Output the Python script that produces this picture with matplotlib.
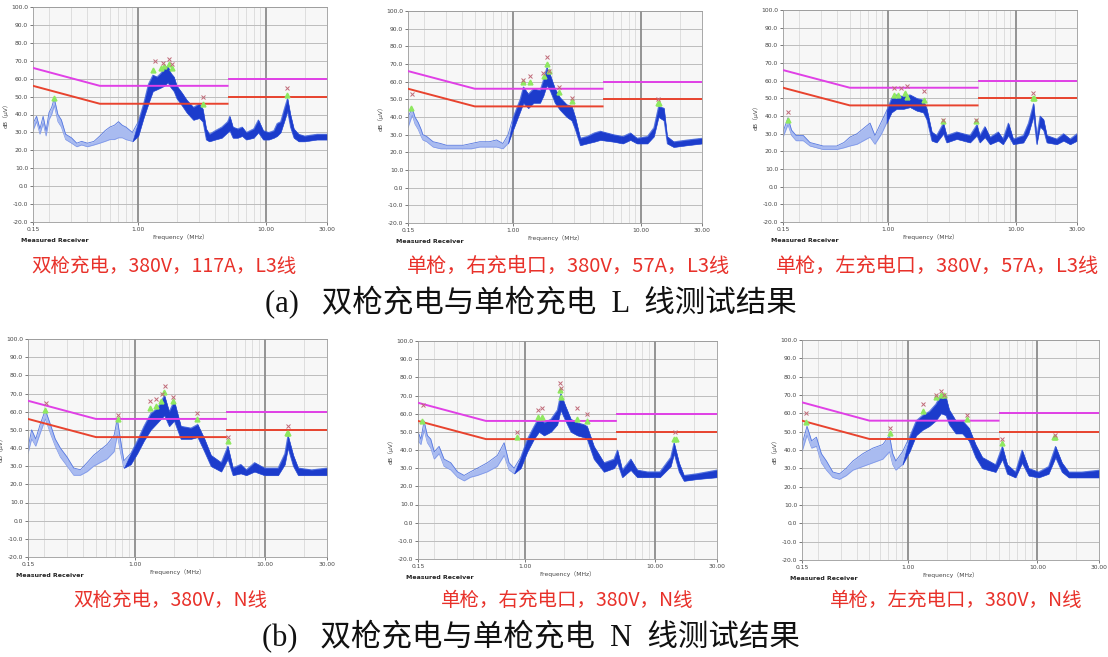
import numpy as np
import matplotlib
matplotlib.use("Agg")
import matplotlib.pyplot as plt
from matplotlib.ticker import FixedLocator, NullFormatter

plt.rcParams['font.family'] = ['DejaVu Sans', 'Noto Sans CJK SC']

# limit lines (QP magenta, AV red)
qp_f1 = [0.15, 0.5, 5.0]
qp_v1 = [66, 56, 56]
qp_f2 = [5.0, 30.0]
qp_v2 = [60, 60]
av_f1 = [0.15, 0.5, 5.0]
av_v1 = [56, 46, 46]
av_f2 = [5.0, 30.0]
av_v2 = [50, 50]

y_ticks = [100, 90, 80, 70, 60, 50, 40, 30, 20, 10, 0, -10, -20]
x_ticks = [0.15, 1.0, 10.0, 30.0]
x_labels = ["0.15", "1.00", "10.00", "30.00"]

captions = ["双枪充电，380V，117A，L3线", "单枪，右充电口，380V，57A，L3线", "单枪，左充电口，380V，57A，L3线",
            "双枪充电，380V，N线", "单枪，右充电口，380V，N线", "单枪，左充电口，380V，N线"]
title_a = "(a)   双枪充电与单枪充电  L  线测试结果"
title_b = "(b)   双枪充电与单枪充电  N  线测试结果"

# panel 1: dual gun, L3
p1_f = [0.15, 0.16, 0.17, 0.18, 0.19, 0.20, 0.21, 0.22, 0.235, 0.25, 0.27, 0.30, 0.33, 0.36, 0.40, 0.45, 0.50,
        0.55, 0.60, 0.65, 0.70, 0.75, 0.80, 0.90, 1.0, 1.1, 1.2, 1.3, 1.4, 1.5, 1.6, 1.7, 1.8, 1.9, 2.0, 2.2,
        2.4, 2.7, 3.0, 3.2, 3.4, 3.6, 4.0, 4.5, 5.0, 5.2, 5.5, 6.0, 6.5, 7.0, 8.0, 8.7, 9.5, 10.5, 11.5, 12.2,
        13.0, 14.0, 14.7, 15.5, 16.5, 18, 20, 25, 30]
p1_hi = [35, 39, 32, 39, 31, 41, 44, 49, 40, 37, 29, 27, 24, 25, 24, 25, 28, 31, 33, 34, 36, 34, 33, 30, 36, 46,
         57, 62, 61, 63, 66, 67, 63, 61, 56, 52, 48, 44, 46, 43, 32, 29, 31, 33, 36, 39, 33, 32, 33, 30, 32, 37,
         31, 30, 31, 35, 36, 44, 49, 40, 32, 29, 28, 29, 29]
p1_lo = [31, 36, 29, 35, 28, 37, 40, 45, 36, 33, 26, 24, 22, 23, 22, 23, 24, 25, 26, 26, 27, 27, 26, 25, 28, 38,
         46, 53, 54, 55, 56, 58, 55, 53, 49, 45, 41, 37, 38, 36, 26, 25, 26, 27, 30, 31, 27, 27, 28, 26, 27, 30,
         26, 26, 27, 28, 30, 37, 42, 33, 27, 25, 25, 26, 26]
p1_gf = [0.22, 1.3, 1.5, 1.6, 1.75, 1.85, 3.2, 14.7]
p1_gv = [49, 65, 66, 67, 68, 66, 46, 51]
p1_xf = [1.35, 1.55, 1.75, 1.85, 3.2, 14.7]
p1_xv = [70, 69, 71, 68, 50, 55]

# panel 2: single gun, right port, L3
p2_f = [0.15, 0.162, 0.17, 0.18, 0.19, 0.196, 0.21, 0.236, 0.27, 0.30, 0.35, 0.405, 0.47, 0.547, 0.65, 0.74,
        0.83, 0.91, 1.0, 1.13, 1.2, 1.31, 1.44, 1.62, 1.72, 1.83, 1.94, 2.12, 2.32, 2.62, 2.87, 3.05, 3.34,
        3.77, 4.3, 4.79, 6.1, 7.2, 8.25, 9.3, 11.2, 12.6, 13.7, 15.1, 16.0, 18.0, 22.9, 30]
p2_hi = [40, 45, 40, 37, 33, 30, 29, 26, 25, 24, 24, 24, 25, 26, 26, 27, 25, 30, 40, 50, 57, 53, 56, 55, 61, 68,
         64, 56, 51, 47, 46, 40, 28, 29, 31, 32, 30, 29, 31, 28, 29, 34, 46, 45, 29, 26, 27, 28]
p2_lo = [34, 41, 36, 33, 29, 27, 26, 23, 22, 22, 22, 22, 22, 23, 23, 23, 22, 25, 33, 43, 48, 45, 48, 48, 52, 58,
         55, 48, 44, 40, 38, 33, 24, 25, 26, 27, 26, 25, 27, 25, 25, 29, 40, 38, 25, 23, 24, 25]
p2_gf = [0.158, 1.2, 1.35, 1.75, 1.85, 1.9, 2.3, 2.9, 13.5, 13.8]
p2_gv = [45, 60, 60, 63, 70, 66, 54, 49, 48, 48]
p2_xf = [0.16, 1.2, 1.35, 1.72, 1.84, 1.9, 2.3, 2.9, 13.6]
p2_xv = [53, 61, 63, 65, 74, 66, 57, 51, 50]

# panel 3: single gun, left port, L3
p3_f = [0.15, 0.164, 0.175, 0.19, 0.216, 0.244, 0.31, 0.394, 0.45, 0.5, 0.57, 0.64, 0.72, 0.786, 0.887, 0.97,
        1.06, 1.16, 1.31, 1.48, 1.67, 1.88, 2.0, 2.19, 2.39, 2.7, 2.86, 3.43, 4.36, 4.93, 5.2, 5.7, 6.25, 7.25,
        7.9, 8.7, 9.5, 11.4, 12.5, 13.7, 14.5, 15.4, 16.4, 17.4, 20.8, 23.5, 26.5, 30]
p3_hi = [31, 39, 32, 29, 29, 25, 23, 23, 25, 28, 30, 33, 36, 29, 37, 43, 50, 52, 51, 52, 50, 49, 44, 31, 29, 36,
         29, 31, 29, 35, 29, 34, 28, 31, 27, 36, 27, 29, 36, 47, 28, 40, 38, 29, 27, 30, 27, 30]
p3_lo = [28, 35, 29, 26, 26, 23, 21, 21, 22, 23, 24, 26, 28, 24, 30, 36, 42, 44, 44, 45, 43, 42, 38, 26, 25, 30,
         25, 27, 25, 29, 25, 28, 24, 26, 24, 29, 24, 25, 30, 40, 24, 34, 32, 25, 24, 26, 24, 26]
p3_gf = [0.163, 1.1, 1.2, 1.35, 1.4, 1.9, 2.7, 4.9, 13.6, 13.8]
p3_gv = [38, 52, 52, 53, 51, 49, 37, 37, 50, 50]
p3_xf = [0.163, 1.1, 1.25, 1.4, 1.9, 2.7, 4.9, 13.5]
p3_xv = [42, 56, 56, 57, 54, 38, 38, 53]

# panel 4: dual gun, N
p4_f = [0.15, 0.16, 0.172, 0.186, 0.204, 0.223, 0.243, 0.266, 0.30, 0.337, 0.38, 0.428, 0.48, 0.54, 0.61, 0.69,
        0.73, 0.775, 0.82, 0.926, 1.04, 1.17, 1.32, 1.49, 1.68, 1.83, 2.0, 2.25, 2.69, 3.03, 3.42, 3.84, 4.6,
        5.17, 5.66, 6.5, 7.17, 8.3, 9.9, 12.6, 14.2, 15.0, 16.5, 18.0, 22.8, 30]
p4_hi = [40, 50, 45, 53, 61, 53, 45, 40, 35, 29, 28, 32, 36, 39, 42, 47, 56, 44, 33, 37, 44, 52, 59, 62, 69, 60,
         66, 52, 51, 53, 45, 36, 32, 41, 29, 31, 28, 32, 29, 29, 37, 47, 36, 29, 28, 29]
p4_lo = [37, 45, 41, 48, 56, 48, 41, 35, 30, 25, 25, 27, 30, 32, 34, 38, 47, 37, 29, 31, 37, 44, 50, 54, 58, 52,
         55, 45, 45, 46, 38, 30, 27, 34, 25, 26, 25, 27, 25, 25, 31, 40, 30, 25, 25, 25]
p4_gf = [0.204, 0.74, 1.3, 1.45, 1.58, 1.68, 1.95, 3.0, 5.2, 14.8, 15.1]
p4_gv = [61, 56, 62, 63, 66, 71, 66, 56, 44, 48, 48]
p4_xf = [0.205, 0.74, 1.3, 1.45, 1.6, 1.7, 1.95, 3.0, 5.2, 14.9]
p4_xv = [65, 58, 66, 67, 70, 74, 68, 59, 46, 52]

# panel 5: single gun, right port, N
p5_f = [0.15, 0.158, 0.167, 0.177, 0.188, 0.20, 0.218, 0.238, 0.268, 0.302, 0.34, 0.38, 0.43, 0.513, 0.612,
        0.69, 0.753, 0.823, 0.926, 1.04, 1.17, 1.28, 1.4, 1.58, 1.77, 1.88, 2.05, 2.25, 2.53, 2.84, 3.0, 3.39,
        4.05, 4.83, 5.13, 5.6, 6.5, 7.3, 8.7, 10.9, 13.2, 14.0, 15.3, 16.7, 21.1, 30]
p5_hi = [50, 46, 56, 48, 46, 39, 42, 35, 33, 28, 26, 28, 30, 33, 37, 44, 33, 30, 36, 46, 53, 58, 55, 57, 62, 71,
         64, 57, 55, 54, 53, 42, 33, 35, 40, 29, 35, 29, 28, 28, 36, 44, 33, 26, 27, 29]
p5_lo = [45, 43, 51, 44, 41, 35, 38, 31, 29, 25, 23, 25, 26, 28, 31, 37, 29, 27, 30, 39, 46, 50, 48, 50, 54, 62,
         56, 50, 48, 47, 46, 35, 28, 30, 33, 25, 29, 25, 25, 25, 31, 38, 28, 23, 24, 25]
p5_gf = [0.16, 0.87, 1.25, 1.35, 1.86, 1.9, 2.5, 3.0, 14.0, 14.4]
p5_gv = [56, 47, 58, 58, 73, 69, 57, 56, 46, 46]
p5_xf = [0.165, 0.87, 1.25, 1.35, 1.85, 1.88, 2.5, 3.0, 14.2]
p5_xv = [65, 50, 62, 63, 77, 74, 63, 60, 50]

# panel 6: single gun, left port, N
p6_f = [0.15, 0.164, 0.178, 0.194, 0.212, 0.232, 0.26, 0.293, 0.33, 0.372, 0.444, 0.53, 0.634, 0.714, 0.757,
        0.80, 0.90, 1.02, 1.15, 1.29, 1.45, 1.63, 1.79, 1.95, 2.07, 2.33, 2.62, 2.95, 3.32, 3.74, 4.74, 5.34,
        5.84, 6.76, 7.6, 8.56, 10.2, 12.2, 13.8, 15.5, 17.5, 22, 30]
p6_hi = [43, 53, 45, 47, 38, 34, 28, 27, 30, 34, 38, 41, 43, 48, 38, 34, 39, 47, 56, 59, 61, 65, 70, 69, 62, 56,
         56, 52, 43, 36, 32, 42, 32, 28, 40, 30, 28, 31, 42, 33, 28, 28, 29]
p6_lo = [39, 48, 41, 42, 33, 29, 25, 24, 26, 29, 31, 33, 35, 39, 32, 29, 32, 39, 48, 51, 53, 56, 60, 59, 54, 49,
         49, 45, 36, 30, 28, 35, 27, 25, 33, 26, 25, 27, 36, 28, 25, 25, 25]
p6_gf = [0.16, 0.72, 1.3, 1.65, 1.8, 1.9, 2.85, 5.3, 13.5, 13.8]
p6_gv = [55, 49, 61, 69, 70, 70, 57, 44, 47, 47]
p6_xf = [0.16, 0.72, 1.3, 1.65, 1.8, 1.9, 2.85, 5.3, 13.6]
p6_xv = [60, 52, 65, 70, 72, 70, 59, 46, 48]

W, H = 1108, 657
# axes boxes in pixels: left, top, right, bottom
boxes = [(33, 7, 327, 222), (408, 11, 702, 223), (783, 10, 1077, 222),
         (28, 339, 327, 557), (418, 341, 717, 559), (802, 340, 1099, 560)]
cap_pos = [(164, 266), (568, 266), (937, 266), (170, 600), (567, 600), (956, 600)]
cap_size = [14, 14.5, 14.5, 14, 14, 14]
dense_from = 0.92  # where the receiver trace turns into a thick band

panels = [(p1_f, p1_hi, p1_lo, p1_gf, p1_gv, p1_xf, p1_xv),
          (p2_f, p2_hi, p2_lo, p2_gf, p2_gv, p2_xf, p2_xv),
          (p3_f, p3_hi, p3_lo, p3_gf, p3_gv, p3_xf, p3_xv),
          (p4_f, p4_hi, p4_lo, p4_gf, p4_gv, p4_xf, p4_xv),
          (p5_f, p5_hi, p5_lo, p5_gf, p5_gv, p5_xf, p5_xv),
          (p6_f, p6_hi, p6_lo, p6_gf, p6_gv, p6_xf, p6_xv)]

fig = plt.figure(figsize=(W / 100, H / 100), dpi=100)
fig.patch.set_facecolor('white')

minor_f = [0.2, 0.3, 0.4, 0.5, 0.6, 0.7, 0.8, 0.9, 2, 3, 4, 5, 6, 7, 8, 9, 20]

for i, (f, hi, lo, gf, gv, xf, xv) in enumerate(panels):
    l, t, r, b = boxes[i]
    ax = fig.add_axes([l / W, 1 - b / H, (r - l) / W, (b - t) / H])
    ax.set_facecolor('#f7f7f7')
    ax.set_xscale('log')
    ax.set_xlim(0.15, 30)
    ax.set_ylim(-20, 100)

    # grid
    for m in minor_f:
        ax.axvline(m, color='#dadada', lw=0.6, zorder=0)
    for yv in y_ticks:
        ax.axhline(yv, color='#bdbdbd', lw=0.7, zorder=0)
    for m in [1.0, 10.0]:
        ax.axvline(m, color='#8c8c8c', lw=1.3, zorder=0)

    # measured trace: thin light part at low frequency, dense dark band above
    fa = np.array(f)
    ax.fill_between(f, lo, hi, color='#a9bbf0', lw=0, zorder=2)
    ax.plot(f, hi, color='#5577e0', lw=0.6, zorder=2)
    ax.plot(f, lo, color='#7d96e8', lw=0.5, zorder=2)
    ax.fill_between(f, lo, hi, where=fa >= dense_from, interpolate=True,
                    color='#1c3ccc', lw=0.4, edgecolor='#2a4ad4', zorder=2)

    # limits
    ax.plot(qp_f1, qp_v1, color='#e040e6', lw=1.4, zorder=3)
    ax.plot([qp_f2[0] * 1.02, qp_f2[1]], qp_v2, color='#e040e6', lw=1.4, zorder=3)
    ax.plot(av_f1, av_v1, color='#e8432e', lw=1.4, zorder=3)
    ax.plot([av_f2[0] * 1.02, av_f2[1]], av_v2, color='#e8432e', lw=1.4, zorder=3)

    # peak markers
    ax.plot(gf, gv, ls='none', marker='^', ms=3.5, color='#8fe860', zorder=4)
    ax.plot(xf, xv, ls='none', marker='x', ms=3, mew=0.7, color='#c06a78', zorder=4)

    ax.xaxis.set_major_locator(FixedLocator(x_ticks))
    ax.set_xticklabels(x_labels)
    ax.xaxis.set_minor_formatter(NullFormatter())
    ax.xaxis.set_minor_locator(FixedLocator([]))
    ax.set_yticks(y_ticks)
    ax.set_yticklabels(["%.1f" % v for v in y_ticks])
    ax.tick_params(labelsize=4.3, length=2, width=0.5, pad=1.5, colors='#444444')
    for s in ax.spines.values():
        s.set_color('#9a9a9a')
        s.set_linewidth(0.6)
    ax.set_xlabel("Frequency（MHz）", fontsize=4.3, labelpad=1.5, color='#444444')
    ax.set_ylabel("dB（μV）", fontsize=4.3, labelpad=1.5, color='#444444')
    ax.text(-0.04, -0.075, "Measured Receiver", transform=ax.transAxes, fontsize=4.5,
            fontweight='bold', color='#222222', va='top', ha='left')

    cx, cy = cap_pos[i]
    fig.text(cx / W, 1 - cy / H, captions[i], fontsize=cap_size[i], color='#e8312a',
             ha='center', va='center', family=['Noto Sans CJK SC', 'DejaVu Sans'])

fig.text(531 / W, 1 - 303 / H, title_a, fontsize=22, color='#111111', ha='center', va='center',
         family=['Liberation Serif', 'Noto Sans CJK SC'])
fig.text(531 / W, 1 - 637 / H, title_b, fontsize=22, color='#111111', ha='center', va='center',
         family=['Liberation Serif', 'Noto Sans CJK SC'])

fig.savefig("out.png", dpi=100)
